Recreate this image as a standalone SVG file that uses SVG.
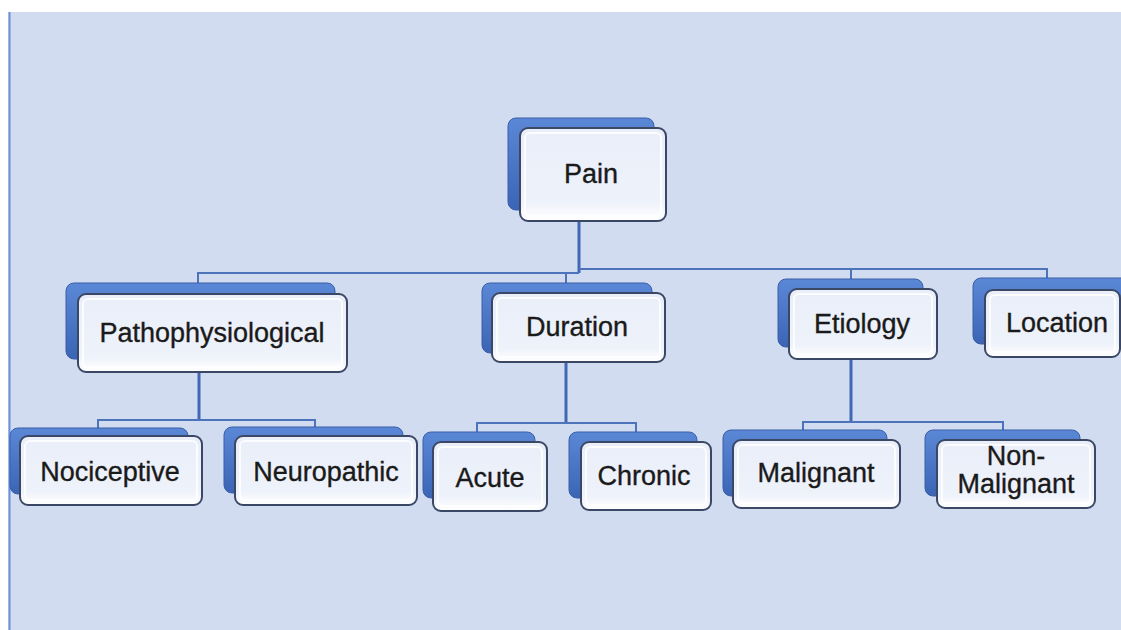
<svg xmlns="http://www.w3.org/2000/svg" width="1121" height="630" viewBox="0 0 1121 630">
  <defs>
    <linearGradient id="backG" x1="0" y1="0" x2="0" y2="1">
      <stop offset="0" stop-color="#5b88d6"/>
      <stop offset="1" stop-color="#3b64b5"/>
    </linearGradient>
    <linearGradient id="frontG" x1="0" y1="0" x2="0" y2="1">
      <stop offset="0" stop-color="#e9eef9"/>
      <stop offset="0.8" stop-color="#eef2fa"/>
      <stop offset="1" stop-color="#ffffff"/>
    </linearGradient>
    <style>
      .back { fill: url(#backG); stroke: #3a5fa8; stroke-width: 1; }
      .front { fill: url(#frontG); stroke: #3a4866; stroke-width: 2; }
      .bevel { fill: none; stroke: #ffffff; stroke-opacity: 0.8; stroke-width: 2; }
      .lbl { font-family: "Liberation Sans", Arial, sans-serif; font-size: 27px; fill: #1a1a1a; stroke: #1a1a1a; stroke-width: 0.35; text-anchor: middle; }
      .bus { fill: none; stroke: #4d73bb; stroke-width: 2; }
      .stem { fill: none; stroke: #4169b3; stroke-width: 3; }
    </style>
  </defs>

  <rect x="0" y="0" width="1121" height="630" fill="#ffffff"/>
  <rect x="8" y="12" width="1113" height="618" fill="#d1dcf0"/>
  <line x1="9.5" y1="12" x2="9.5" y2="630" stroke="#6b90d9" stroke-width="2"/>

  <g id="connectors">
    <path class="stem" d="M579 221 V273"/>
    <path class="bus" d="M198 284 V273 H579"/>
    <path class="bus" d="M566 284 V273"/>
    <path class="bus" d="M579 269 H1047 V279"/>
    <path class="bus" d="M851 269 V280"/>
    <path class="stem" d="M199 372 V420"/>
    <path class="bus" d="M98 428 V420 H315 V428"/>
    <path class="stem" d="M566 362 V423"/>
    <path class="bus" d="M477 432 V423 H636 V432"/>
    <path class="stem" d="M851 359 V422"/>
    <path class="bus" d="M803 430 V422 H1003 V430"/>
  </g>

  <g id="node-pain">
    <rect class="back" x="508" y="118" width="146" height="92" rx="8"/>
    <rect class="front" x="520" y="128" width="146" height="93" rx="8"/>
    <rect class="bevel" x="525" y="133" width="136" height="83" rx="5"/>
    <text class="lbl" x="591" y="183">Pain</text>
  </g>

  <g id="node-pathophysiological">
    <rect class="back" x="66" y="283" width="269" height="76" rx="8"/>
    <rect class="front" x="78" y="294" width="269" height="78" rx="8"/>
    <rect class="bevel" x="83" y="299" width="259" height="68" rx="5"/>
    <text class="lbl" x="212" y="342">Pathophysiological</text>
  </g>

  <g id="node-duration">
    <rect class="back" x="482" y="283" width="170" height="70" rx="8"/>
    <rect class="front" x="492" y="293" width="173" height="69" rx="8"/>
    <rect class="bevel" x="497" y="298" width="163" height="59" rx="5"/>
    <text class="lbl" x="577" y="336">Duration</text>
  </g>

  <g id="node-etiology">
    <rect class="back" x="778" y="279" width="145" height="68" rx="8"/>
    <rect class="front" x="789" y="289" width="148" height="70" rx="8"/>
    <rect class="bevel" x="794" y="294" width="138" height="60" rx="5"/>
    <text class="lbl" x="862" y="333">Etiology</text>
  </g>

  <g id="node-location">
    <rect class="back" x="973" y="278" width="160" height="66" rx="8"/>
    <rect class="front" x="985" y="290" width="135" height="67" rx="8"/>
    <rect class="bevel" x="990" y="295" width="125" height="57" rx="5"/>
    <text class="lbl" x="1057" y="332">Location</text>
  </g>

  <g id="node-nociceptive">
    <rect class="back" x="10" y="428" width="178" height="66" rx="8"/>
    <rect class="front" x="20" y="436" width="182" height="69" rx="8"/>
    <rect class="bevel" x="25" y="441" width="172" height="59" rx="5"/>
    <text class="lbl" x="110" y="481">Nociceptive</text>
  </g>

  <g id="node-neuropathic">
    <rect class="back" x="224" y="427" width="179" height="66" rx="8"/>
    <rect class="front" x="235" y="436" width="182" height="69" rx="8"/>
    <rect class="bevel" x="240" y="441" width="172" height="59" rx="5"/>
    <text class="lbl" x="326" y="481">Neuropathic</text>
  </g>

  <g id="node-acute">
    <rect class="back" x="423" y="432" width="112" height="66" rx="8"/>
    <rect class="front" x="433" y="442" width="114" height="69" rx="8"/>
    <rect class="bevel" x="438" y="447" width="104" height="59" rx="5"/>
    <text class="lbl" x="490" y="487">Acute</text>
  </g>

  <g id="node-chronic">
    <rect class="back" x="569" y="432" width="128" height="66" rx="8"/>
    <rect class="front" x="581" y="442" width="130" height="68" rx="8"/>
    <rect class="bevel" x="586" y="447" width="120" height="58" rx="5"/>
    <text class="lbl" x="644" y="485">Chronic</text>
  </g>

  <g id="node-malignant">
    <rect class="back" x="723" y="430" width="164" height="66" rx="8"/>
    <rect class="front" x="733" y="440" width="167" height="68" rx="8"/>
    <rect class="bevel" x="738" y="445" width="157" height="58" rx="5"/>
    <text class="lbl" x="816" y="482">Malignant</text>
  </g>

  <g id="node-non-malignant">
    <rect class="back" x="925" y="430" width="155" height="66" rx="8"/>
    <rect class="front" x="937" y="440" width="158" height="68" rx="8"/>
    <rect class="bevel" x="942" y="445" width="148" height="58" rx="5"/>
    <text class="lbl" x="1016" y="465">Non-</text>
    <text class="lbl" x="1016" y="493">Malignant</text>
  </g>
</svg>
